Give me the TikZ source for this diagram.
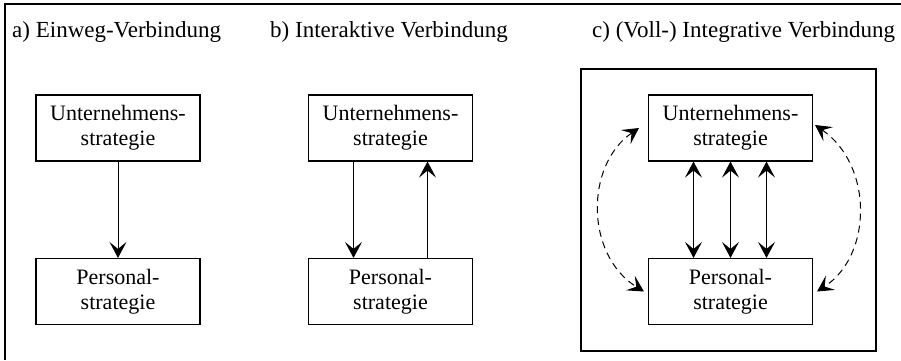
\documentclass[tikz,border=0pt]{standalone}
\usepackage{fontspec}
\setmainfont{Liberation Serif}
\usetikzlibrary{arrows.meta}
\begin{document}
\begin{tikzpicture}[x=1pt,y=-1pt,
  every node/.style={font=\fontsize{22}{25}\selectfont},
  title/.style={anchor=base west, inner sep=0pt, font=\fontsize{23}{26}\selectfont},
  box/.style={draw, line width=1.1pt, minimum width=164pt, minimum height=66pt, align=center, inner sep=0pt},
  frame/.style={draw, line width=1.1pt},
  arr/.style={line width=1pt, -{Stealth[length=16pt,width=17pt,inset=7pt]}},
  darr/.style={line width=1pt, {Stealth[length=16pt,width=17pt,inset=7pt]}-{Stealth[length=16pt,width=17pt,inset=7pt]}},
  dashedarr/.style={line width=1pt, dash pattern=on 7pt off 5pt, {Stealth[length=16pt,width=17pt,inset=7pt]}-{Stealth[length=16pt,width=17pt,inset=7pt]}}
]
\useasboundingbox (0,0) rectangle (901,360);
% outer frame (cropped)
\draw[line width=1.1pt] (5,360) -- (5,4) -- (901,4);

% titles
\node[title] (ta) at (12,37) {a) Einweg-Verbindung};
\node[title] (tb) at (270,37) {b) Interaktive Verbindung};
\node[title] (tc) at (592,37) {c) (Voll-) Integrative Verbindung};

% a)
\node[box] (aU) at (118,128) {Unternehmens-\\strategie};
\node[box] (aP) at (118,291.5) {Personal-\\strategie};
\draw[arr] (aU.south) -- (aP.north);

% b)
\node[box] (bU) at (390.5,128) {Unternehmens-\\strategie};
\node[box] (bP) at (390.5,291.5) {Personal-\\strategie};
\draw[arr] ([xshift=-37pt]bU.south) -- ([xshift=-37pt]bP.north);
\draw[arr] ([xshift=37pt]bP.north) -- ([xshift=37pt]bU.south);

% c)
\node[frame, minimum width=295pt, minimum height=282pt, inner sep=0pt] (cF) at (728.5,210) {};
\node[box] (cU) at (730.5,128) {Unternehmens-\\strategie};
\node[box] (cP) at (730.5,291.5) {Personal-\\strategie};
\draw[darr] ([xshift=-37pt]cU.south) -- ([xshift=-37pt]cP.north);
\draw[darr] (cU.south) -- (cP.north);
\draw[darr] ([xshift=36pt]cU.south) -- ([xshift=36pt]cP.north);
\draw[dashedarr] ([xshift=-9pt]cU.west) .. controls (585,165) and (585,255) .. ([xshift=-4pt]cP.west);
\draw[dashedarr] ([xshift=2pt,yshift=3pt]cU.east) .. controls (873,165) and (873,255) .. ([xshift=4pt]cP.east);
\end{tikzpicture}
\end{document}
